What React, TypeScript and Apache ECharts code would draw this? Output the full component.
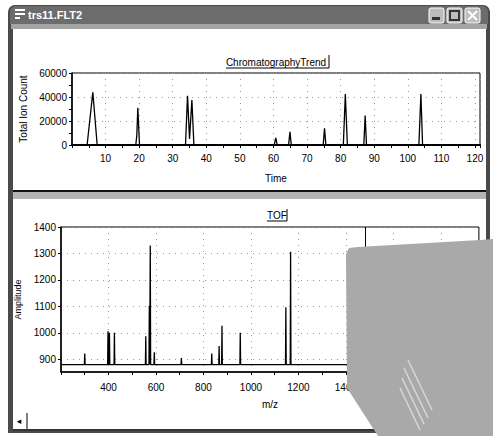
import React, { useEffect, useRef } from "react";
import * as echarts from "echarts";

// Chromatogram (Time vs Total Ion Count)
const chromTime = [0, 4.5, 6.2, 7.5, 19.0, 19.3, 19.6, 20.1, 33.8, 34.4, 35.0, 35.7, 36.3, 60.2, 60.7, 61.1, 64.5, 64.9, 65.3, 74.8, 75.2, 75.6, 80.8, 81.4, 82.0, 86.9, 87.3, 87.7, 103.3, 103.9, 104.4, 121];
const chromCount = [0, 0, 44000, 0, 0, 8000, 31000, 0, 0, 41000, 5000, 37500, 0, 0, 6000, 0, 0, 11000, 0, 0, 14000, 0, 0, 42500, 0, 0, 24500, 0, 0, 42500, 0, 0];
const chromXTicks = [10, 20, 30, 40, 50, 60, 70, 80, 90, 100, 110, 120];
const chromYTicks = [0, 20000, 40000, 60000];

// TOF spectrum (m/z vs Amplitude): peak positions and heights, baseline level
const tofMz = [300, 398, 404, 425, 557, 572, 576, 593, 707, 835, 866, 878, 955, 1147, 1167];
const tofAmp = [922, 1006, 1000, 1000, 987, 1102, 1330, 927, 905, 922, 950, 1027, 1000, 1097, 1306];
const tofBaseline = 880;
const tofRange = [200, 1960];
const tofYTicks = [900, 1000, 1100, 1200, 1300, 1400];
const tofMarker = 1480;

export default function App() {
  const ref = useRef<HTMLDivElement>(null);
  useEffect(() => {
    if (!ref.current) return;
    const chart = echarts.init(ref.current, null, { renderer: "svg" });

    const chromData = chromTime.map((t, i) => [t, chromCount[i]]);
    const tofData: number[][] = [[tofRange[0], tofBaseline]];
    tofMz.forEach((m, i) => {
      tofData.push([m - 1.5, tofBaseline], [m, tofAmp[i]], [m + 1.5, tofBaseline]);
    });
    tofData.push([tofRange[1], tofBaseline]);

    const font = "Liberation Sans";
    const grid = { show: true, borderColor: "#000", borderWidth: 1, backgroundColor: "#fff" };
    const split = { show: true, lineStyle: { color: "#9a9a9a", type: [1, 5] as any, width: 1 } };
    const lbl = { color: "#000", fontSize: 10, fontFamily: font };

    chart.setOption({
      animation: false,
      backgroundColor: "#fff",
      grid: [
        { ...grid, left: 72, top: 73, right: 13, bottom: 291 },
        { ...grid, left: 61, top: 227, right: 11, bottom: 64 },
      ],
      xAxis: [
        {
          gridIndex: 0, type: "value", min: 0, max: 121.5, interval: 10,
          name: "Time", nameLocation: "middle", nameGap: 28,
          nameTextStyle: { ...lbl },
          axisLine: { lineStyle: { color: "#000", width: 2 } },
          axisTick: { show: true, length: 3, lineStyle: { color: "#000" } },
          minorTick: { show: true, splitNumber: 2, length: 3, lineStyle: { color: "#000" } },
          axisLabel: { ...lbl, margin: 8, formatter: (v: number) => (chromXTicks.includes(v) ? String(v) : "") },
          splitLine: split,
        },
        {
          gridIndex: 1, type: "value", min: tofRange[0], max: tofRange[1], interval: 200,
          name: "m/z", nameLocation: "middle", nameGap: 27,
          nameTextStyle: { ...lbl },
          axisLine: { lineStyle: { color: "#000", width: 1.5 } },
          axisTick: { show: true, length: 3, lineStyle: { color: "#000" } },
          minorTick: { show: true, splitNumber: 2, length: 3, lineStyle: { color: "#000" } },
          axisLabel: { ...lbl, margin: 10, formatter: (v: number) => (v >= 400 ? String(v) : "") },
          splitLine: split,
        },
      ],
      yAxis: [
        {
          gridIndex: 0, type: "value", min: 0, max: 60000, interval: 20000,
          name: "Total Ion Count", nameLocation: "middle", nameGap: 37,
          nameTextStyle: { ...lbl, fontSize: 10 },
          axisLine: { show: true, lineStyle: { color: "#000", width: 1.5 } },
          axisTick: { show: true, length: 3, lineStyle: { color: "#000" } },
          minorTick: { show: true, splitNumber: 2, length: 3, lineStyle: { color: "#000" } },
          axisLabel: { ...lbl, margin: 5, formatter: (v: number) => (chromYTicks.includes(v) ? String(v) : "") },
          splitLine: split,
        },
        {
          gridIndex: 1, type: "value", min: 852, max: 1400,
          name: "Amplitude", nameLocation: "middle", nameGap: 29,
          nameTextStyle: { ...lbl, fontSize: 9 },
          axisLine: { show: true, lineStyle: { color: "#000", width: 1.5 } },
          axisTick: { show: true, length: 3, customValues: tofYTicks, lineStyle: { color: "#000" } },
          axisLabel: { ...lbl, margin: 5, customValues: tofYTicks, formatter: (v: number) => String(v) },
          splitLine: split,
        },
      ],
      series: [
        {
          type: "line", xAxisIndex: 0, yAxisIndex: 0, data: chromData, symbol: "none",
          lineStyle: { color: "#000", width: 1.3 },
        },
        {
          type: "line", xAxisIndex: 1, yAxisIndex: 1, data: tofData, symbol: "none",
          lineStyle: { color: "#000", width: 1.3 },
          markLine: {
            silent: true, symbol: "none", label: { show: false },
            lineStyle: { color: "#000", type: "solid", width: 1 },
            data: [{ xAxis: tofMarker }],
          },
        },
      ],
      graphic: [
        // window frame
        { type: "rect", z: -10, shape: { x: 8, y: 5, width: 482, height: 428, r: [7, 7, 0, 0] }, style: { fill: "#4a4a4a" } },
        { type: "rect", z: -9, shape: { x: 10, y: 6, width: 478, height: 18, r: [6, 6, 0, 0] }, style: { fill: "#6c6c6c" } },
        { type: "rect", z: -9, shape: { x: 11, y: 24, width: 476, height: 5 }, style: { fill: "#a4a4a4" } },
        { type: "rect", z: -8, shape: { x: 13, y: 29, width: 473, height: 161 }, style: { fill: "#fff" } },
        { type: "line", z: -7, shape: { x1: 13, y1: 191, x2: 486, y2: 191 }, style: { stroke: "#000", lineWidth: 1.5 } },
        { type: "rect", z: -8, shape: { x: 13, y: 192, width: 473, height: 7 }, style: { fill: "#b4b4b4" } },
        { type: "rect", z: -8, shape: { x: 13, y: 199, width: 473, height: 230 }, style: { fill: "#fff" } },
        // title bar text + icon
        { type: "text", z: 5, x: 28, y: 15, style: { text: "trs11.FLT2", fill: "#fff", font: "bold 11px Liberation Sans", verticalAlign: "middle" } },
        { type: "rect", z: 5, shape: { x: 15, y: 9, width: 10, height: 2 }, style: { fill: "#fff" } },
        { type: "rect", z: 5, shape: { x: 15, y: 13, width: 10, height: 2 }, style: { fill: "#fff" } },
        { type: "rect", z: 5, shape: { x: 15, y: 17, width: 5, height: 2 }, style: { fill: "#fff" } },
        // window buttons
        { type: "rect", z: 5, shape: { x: 429, y: 8, width: 15, height: 15, r: 2 }, style: { fill: "#bdbdbd", stroke: "#fff", lineWidth: 1 } },
        { type: "rect", z: 5, shape: { x: 447, y: 8, width: 15, height: 15, r: 2 }, style: { fill: "#bdbdbd", stroke: "#fff", lineWidth: 1 } },
        { type: "rect", z: 5, shape: { x: 465, y: 8, width: 15, height: 15, r: 2 }, style: { fill: "#bdbdbd", stroke: "#fff", lineWidth: 1 } },
        { type: "rect", z: 6, shape: { x: 432, y: 17, width: 8, height: 3 }, style: { fill: "#333" } },
        { type: "rect", z: 6, shape: { x: 450, y: 11, width: 9, height: 9 }, style: { fill: "none", stroke: "#333", lineWidth: 2 } },
        { type: "line", z: 6, shape: { x1: 468, y1: 11, x2: 477, y2: 20 }, style: { stroke: "#fff", lineWidth: 2 } },
        { type: "line", z: 6, shape: { x1: 477, y1: 11, x2: 468, y2: 20 }, style: { stroke: "#fff", lineWidth: 2 } },
        // chart titles
        { type: "text", z: 5, x: 276, y: 62, style: { text: "ChromatographyTrend", fill: "#000", font: "10px Liberation Sans", align: "center", verticalAlign: "middle" } },
        { type: "line", z: 5, shape: { x1: 226, y1: 68, x2: 329, y2: 68 }, style: { stroke: "#000", lineWidth: 1 } },
        { type: "line", z: 5, shape: { x1: 329, y1: 55, x2: 329, y2: 68 }, style: { stroke: "#000", lineWidth: 1 } },
        { type: "text", z: 5, x: 277, y: 215, style: { text: "TOF", fill: "#000", font: "10px Liberation Sans", align: "center", verticalAlign: "middle" } },
        { type: "line", z: 5, shape: { x1: 267, y1: 221, x2: 287, y2: 221 }, style: { stroke: "#000", lineWidth: 1 } },
        { type: "line", z: 5, shape: { x1: 287, y1: 209, x2: 287, y2: 221 }, style: { stroke: "#000", lineWidth: 1 } },
        // scroll bar
        { type: "text", z: 5, x: 19, y: 421, style: { text: "◂", fill: "#000", font: "9px DejaVu Sans", align: "center", verticalAlign: "middle" } },
        { type: "line", z: 5, shape: { x1: 27, y1: 413, x2: 27, y2: 429 }, style: { stroke: "#000", lineWidth: 1 } },
        { type: "line", z: 5, shape: { x1: 13, y1: 430, x2: 486, y2: 430 }, style: { stroke: "#333", lineWidth: 2 } },
        // page curl overlay
        { type: "polygon", z: 100, shape: { points: [[346, 254], [349, 248], [358, 247], [480, 240], [493, 239], [493, 436], [378, 436], [347, 388]] }, style: { fill: "#a9a9a9" } },
        { type: "line", z: 101, shape: { x1: 408, y1: 360, x2: 432, y2: 410 }, style: { stroke: "#d8d8d8", lineWidth: 1.5 } },
        { type: "line", z: 101, shape: { x1: 404, y1: 368, x2: 428, y2: 418 }, style: { stroke: "#d8d8d8", lineWidth: 1.5 } },
        { type: "line", z: 101, shape: { x1: 402, y1: 378, x2: 424, y2: 424 }, style: { stroke: "#d8d8d8", lineWidth: 1.5 } },
        { type: "line", z: 101, shape: { x1: 400, y1: 388, x2: 420, y2: 430 }, style: { stroke: "#d8d8d8", lineWidth: 1.5 } },
      ],
    });
    return () => chart.dispose();
  }, []);
  return <div ref={ref} style={{ position: "absolute", left: 0, top: 0, width: 493, height: 436 }} />;
}
